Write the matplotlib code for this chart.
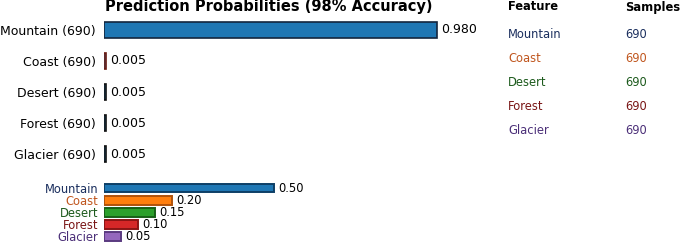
import matplotlib.pyplot as plt

classes = ['Mountain', 'Coast', 'Desert', 'Forest', 'Glacier']
samples = [690, 690, 690, 690, 690]
probs = [0.980, 0.005, 0.005, 0.005, 0.005]
weights = [0.50, 0.20, 0.15, 0.10, 0.05]

text_colors = ['#1b2f5e', '#c0561e', '#1c5a1c', '#7a1616', '#4b2f78']
fill_colors = ['#1f77b4', '#ff7f0e', '#2ca02c', '#d62728', '#9467bd']
edge_colors = ['#0d3f66', '#b0520a', '#186018', '#8a1414', '#5a3a80']
top_edges = ['#14263e', '#6b1a10', '#111111', '#111111', '#111111']

W, H = 685, 245
fig = plt.figure(figsize=(6.85, 2.45), dpi=100)


def px_axes(x0, y0, w, h):
    return fig.add_axes([x0 / W, 1 - (y0 + h) / H, w / W, h / H])


# top chart: prediction probabilities
ax = px_axes(104, 14.5, 340, 155)
ypos = list(range(len(classes)))
ax.barh(ypos, probs, height=0.52, color='#1f77b4', edgecolor=top_edges, linewidth=1.2)
for y, p in zip(ypos, probs):
    ax.text(p + 0.012, y, f'{p:.3f}', va='center', ha='left', fontsize=9)
ax.set_yticks(ypos)
ax.set_yticklabels([f'{c} ({s})' for c, s in zip(classes, samples)], fontsize=9)
ax.set_xlim(0, 1)
ax.set_ylim(4.5, -0.5)
ax.set_xticks([])
ax.tick_params(axis='y', length=0, pad=6)
for s in ax.spines.values():
    s.set_visible(False)
ax.set_title('Prediction Probabilities (98% Accuracy)', fontsize=10.5,
             fontweight='bold', pad=1.5, x=0.485)

# bottom chart: class weights
ax2 = px_axes(104, 182, 340, 60.5)
ax2.barh(ypos, weights, height=0.72, color=fill_colors, edgecolor=edge_colors, linewidth=1.4)
for y, w in zip(ypos, weights):
    ax2.text(w + 0.012, y, f'{w:.2f}', va='center', ha='left', fontsize=8.3)
ax2.set_yticks(ypos)
ax2.set_yticklabels(classes, fontsize=8.3)
for lab, c in zip(ax2.get_yticklabels(), text_colors):
    lab.set_color(c)
ax2.set_xlim(0, 1)
ax2.set_ylim(4.5, -0.5)
ax2.set_xticks([])
ax2.tick_params(axis='y', length=0, pad=4)
for s in ax2.spines.values():
    s.set_visible(False)

# side table
fig.text(508 / W, 1 - 7 / H, 'Feature', fontsize=8.3, fontweight='bold', va='center')
fig.text(625 / W, 1 - 7 / H, 'Samples', fontsize=8.3, fontweight='bold', va='center')
row_y = [35, 59, 82, 106, 130]
for c, s, col, yy in zip(classes, samples, text_colors, row_y):
    fig.text(508 / W, 1 - yy / H, c, fontsize=8.3, color=col, va='center')
    fig.text(625 / W, 1 - yy / H, str(s), fontsize=8.3, color=col, va='center')

fig.savefig('out.png', dpi=100)
